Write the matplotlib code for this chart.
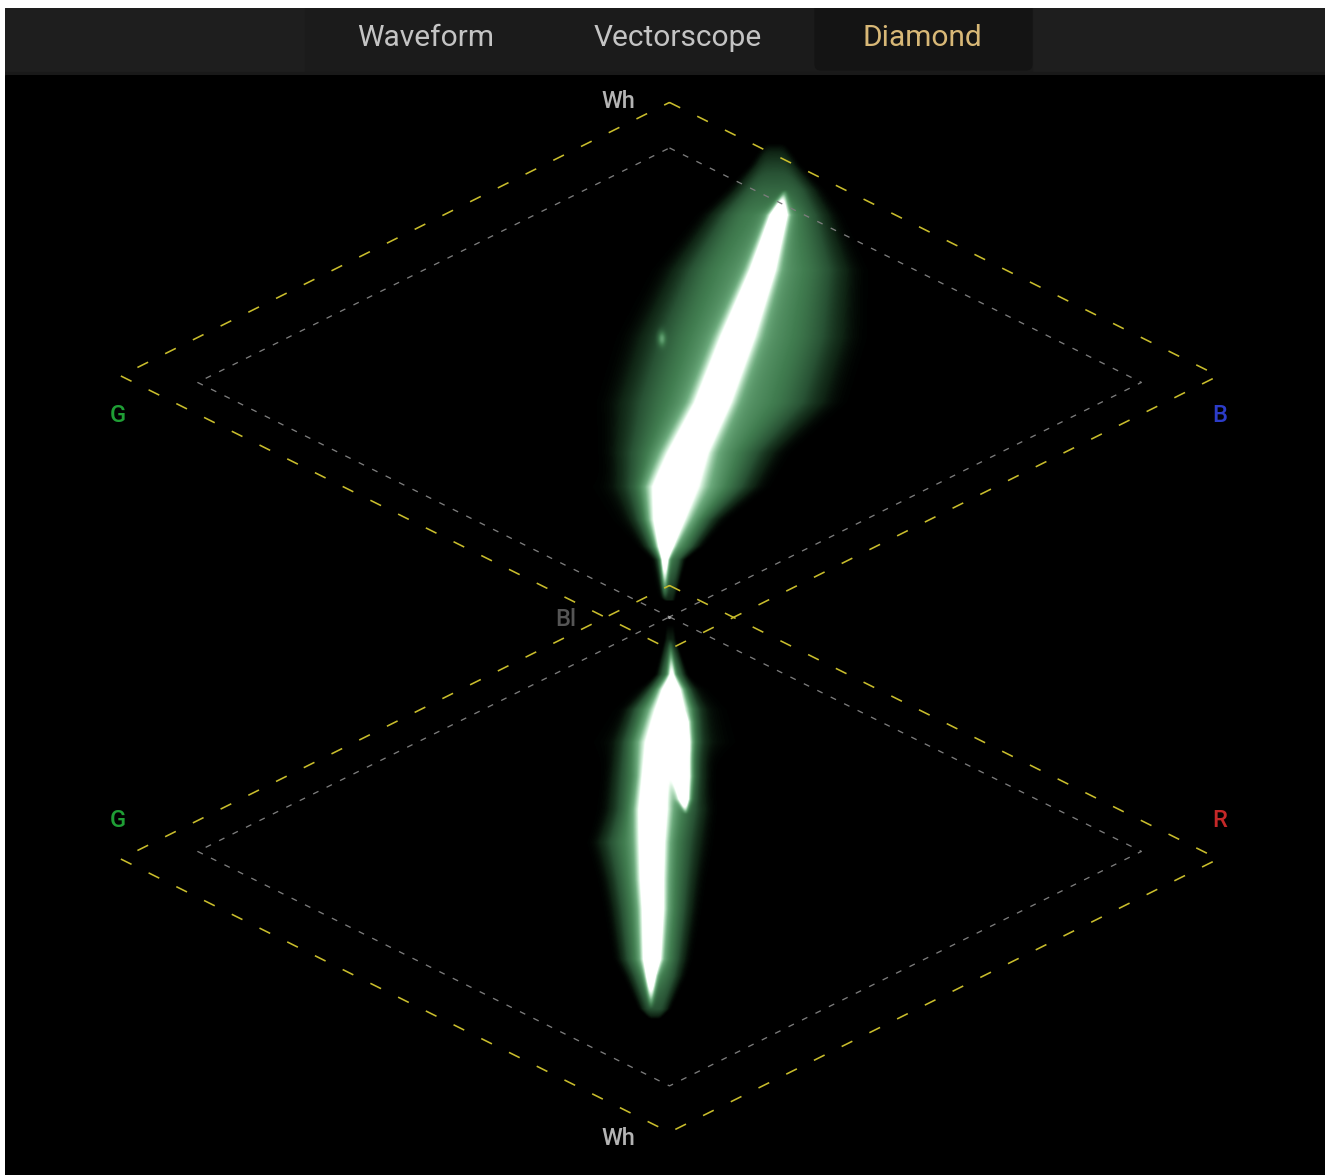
import numpy as np
import matplotlib.pyplot as plt
from matplotlib.colors import LinearSegmentedColormap
from matplotlib.patches import Rectangle, FancyBboxPatch

plt.rcParams['lines.scale_dashes'] = False

W, H = 1328, 1175

# Graticule, in scope units: x = +/-1 at the inner diamond corners,
# y = 0 at black, +2 / -2 at white for the upper / lower diamond
INNER_HALF = (1.0, 1.0)
INNER_CENTERS = [1.0, -1.0]
OUTER_HALF = (1.163, 1.166)
OUTER_CENTERS = [1.028, -1.032]

# Upper trace (G / B), one row per level, bottom to top
up_y = [0.07, 0.243, 0.299, 0.414, 0.554, 0.699, 0.913, 1.194, 1.480, 1.714, 1.821, 1.928, 2.02]
up_core_x = [-0.010, -0.0095, -0.0074, -0.001, 0.0117, 0.039, 0.092, 0.145, 0.198, 0.232, 0.245, 0.245, 0.245]
up_core_w = [0.005, 0.0085, 0.015, 0.030, 0.044, 0.038, 0.034, 0.032, 0.024, 0.017, 0.005, 0.005, 0.005]
up_core_a = [0.0, 0.7, 1.0, 1.0, 1.0, 1.0, 1.0, 1.0, 1.0, 1.0, 0.0, 0.0, 0.0]
up_haze_x = [0.0, 0.001, 0.005, 0.012, 0.039, 0.054, 0.111, 0.154, 0.192, 0.213, 0.224, 0.224, 0.224]
up_haze_w = [0.010, 0.025, 0.047, 0.074, 0.117, 0.138, 0.180, 0.180, 0.155, 0.106, 0.074, 0.040, 0.020]
up_haze_a = [0.06, 0.30, 0.40, 0.45, 0.45, 0.45, 0.45, 0.45, 0.45, 0.40, 0.30, 0.15, 0.0]

# Small stray spot on the left of the upper trace
spot_x, spot_y = [-0.016], [1.186]

# Lower trace (G / R), bottom to top
lo_y = [-1.719, -1.676, -1.535, -1.463, -1.249, -1.122, -0.964, -0.823, -0.682, -0.537, -0.397, -0.311, -0.247, -0.098, -0.034]
lo_core_x = [-0.039, -0.039, -0.039, -0.037, -0.035, -0.037, -0.037, -0.035, -0.031, -0.010, 0.002, 0.004, 0.005, 0.002, 0.002]
lo_core_w = [0.005, 0.005, 0.011, 0.017, 0.021, 0.023, 0.025, 0.028, 0.025, 0.038, 0.030, 0.020, 0.008, 0.004, 0.004]
lo_core_a = [0.0, 0.0, 0.8, 1.0, 1.0, 1.0, 1.0, 1.0, 1.0, 1.0, 1.0, 0.9, 0.5, 0.0, 0.0]
lo_haze_x = [-0.031, -0.031, -0.031, -0.035, -0.035, -0.037, -0.041, -0.024, -0.024, -0.020, -0.0095, 0.001, 0.005, 0.002, 0.002]
lo_haze_w = [0.010, 0.025, 0.047, 0.057, 0.070, 0.078, 0.091, 0.085, 0.081, 0.074, 0.064, 0.042, 0.025, 0.010, 0.008]
lo_haze_a = [0.0, 0.20, 0.35, 0.40, 0.40, 0.40, 0.40, 0.40, 0.40, 0.40, 0.40, 0.35, 0.30, 0.06, 0.0]

# Side branch of the lower trace
br_y = [-0.844, -0.780, -0.682, -0.567, -0.450, -0.400]
br_x = [0.035, 0.031, 0.026, 0.024, 0.018, 0.015]
br_w = [0.004, 0.011, 0.017, 0.017, 0.016, 0.015]
br_a = [0.0, 0.8, 1.0, 1.0, 1.0, 0.0]

tabs = ['Waveform', 'Vectorscope', 'Diamond']
tab_x = [426, 678, 922]
tab_colors = ['#c4c4c4', '#c4c4c4', '#d8b877']

labels = [('Wh', -0.109, 2.20, '#b4b4b4'), ('Wh', -0.109, -2.226, '#b4b4b4'),
          ('G', -1.168, 0.857, '#1f9e35'), ('G', -1.168, -0.870, '#1f9e35'),
          ('B', 1.166, 0.861, '#2c3cc8'), ('R', 1.166, -0.870, '#c42828'),
          ('Bl', -0.219, -0.01, '#555555')]


def diamond(cx, cy, hx, hy):
    xs = [cx, cx + hx, cx, cx - hx, cx]
    ys = [cy + hy, cy, cy - hy, cy, cy + hy]
    return xs, ys


def trace_field(gx, gy, ry, cx, cw, ca, hx, hw, ha):
    X = gx[None, :]
    c_x = np.interp(gy, ry, cx)[:, None]
    c_w = np.maximum(np.interp(gy, ry, cw), 1e-3)[:, None]
    c_a = np.interp(gy, ry, ca, left=0, right=0)[:, None]
    h_x = np.interp(gy, ry, hx)[:, None]
    h_w = np.maximum(np.interp(gy, ry, hw), 1e-3)[:, None]
    h_a = np.interp(gy, ry, ha, left=0, right=0)[:, None]
    core = 1.4 * c_a * np.exp(-((X - c_x) / c_w) ** 2)
    glow = 0.2 * c_a * np.exp(-((X - c_x) / (2.0 * c_w)) ** 2)
    haze = h_a * np.exp(-np.abs((X - h_x) / h_w) ** 4)
    return core + glow + haze


fig = plt.figure(figsize=(W / 100, H / 100), dpi=100, facecolor='white')

# Scope area
ax = fig.add_axes([5 / W, 0, 1320 / W, 1100 / H])
ax.set_facecolor('black')
ax.set_xlim(-1.408, 1.389)
ax.set_ylim(-2.380, 2.311)
ax.set_axis_off()
ax.add_patch(Rectangle((0, 0), 1, 1, transform=ax.transAxes, color='black', zorder=0))

gx = np.linspace(-0.25, 0.45, 331)
gy = np.linspace(-1.9, 2.1, 939)
field = trace_field(gx, gy, up_y, up_core_x, up_core_w, up_core_a, up_haze_x, up_haze_w, up_haze_a)
field += trace_field(gx, gy, lo_y, lo_core_x, lo_core_w, lo_core_a, lo_haze_x, lo_haze_w, lo_haze_a)
field += trace_field(gx, gy, br_y, br_x, br_w, br_a, br_x, br_w, [0] * len(br_y))
for sx, sy in zip(spot_x, spot_y):
    field += 0.35 * np.exp(-((gx[None, :] - sx) / 0.008) ** 2 - ((gy[:, None] - sy) / 0.03) ** 2)

cmap = LinearSegmentedColormap.from_list('scope', [
    (0.0, '#000000'), (0.06, '#0f2414'), (0.2, '#285234'), (0.4, '#417d50'),
    (0.6, '#6caa7c'), (0.8, '#bce2c5'), (0.95, '#f4fff6'), (1.0, '#ffffff')])
ax.imshow(np.clip(field, 0, 1), extent=[gx[0], gx[-1], gy[0], gy[-1]], origin='lower',
          cmap=cmap, vmin=0, vmax=1, aspect='auto', interpolation='bilinear', zorder=1)

for cy in INNER_CENTERS:
    xs, ys = diamond(0, cy, *INNER_HALF)
    ax.plot(xs, ys, color='#7c7c7c', lw=0.95, ls=(0, (4.3, 6.5)), zorder=3)
for cy in OUTER_CENTERS:
    xs, ys = diamond(0, cy, *OUTER_HALF)
    ax.plot(xs, ys, color='#c9bd2c', lw=1.15, ls=(0, (8.6, 13.7)), zorder=3)

ax.scatter([0], [0], s=5, color='#a0a0a0', zorder=4, linewidths=0)

for txt, x, y, c in labels:
    ax.text(x, y, txt, color=c, fontsize=17, fontfamily='Roboto', fontweight='medium',
            ha='center', va='center', zorder=5)

# Tab bar
tb = fig.add_axes([5 / W, (H - 75) / H, 1320 / W, 67 / H])
tb.set_xlim(5, 1325)
tb.set_ylim(75, 8)
tb.set_axis_off()
tb.add_patch(Rectangle((5, 8), 1320, 67, color='#1e1e1e', zorder=0))
tb.add_patch(Rectangle((305, 8), 727, 67, color='#1b1b1b', zorder=1))
tb.add_patch(FancyBboxPatch((815, -2), 217, 72, boxstyle='round,pad=0,rounding_size=6',
                            color='#141414', zorder=2))
tb.add_patch(Rectangle((5, 72), 1320, 3, color='#191919', zorder=3))
for name, x, c in zip(tabs, tab_x, tab_colors):
    tb.text(x, 38, name, color=c, fontsize=21.5, fontfamily='Roboto',
            ha='center', va='center', zorder=4)

fig.savefig('out.png', dpi=100, facecolor='white')
